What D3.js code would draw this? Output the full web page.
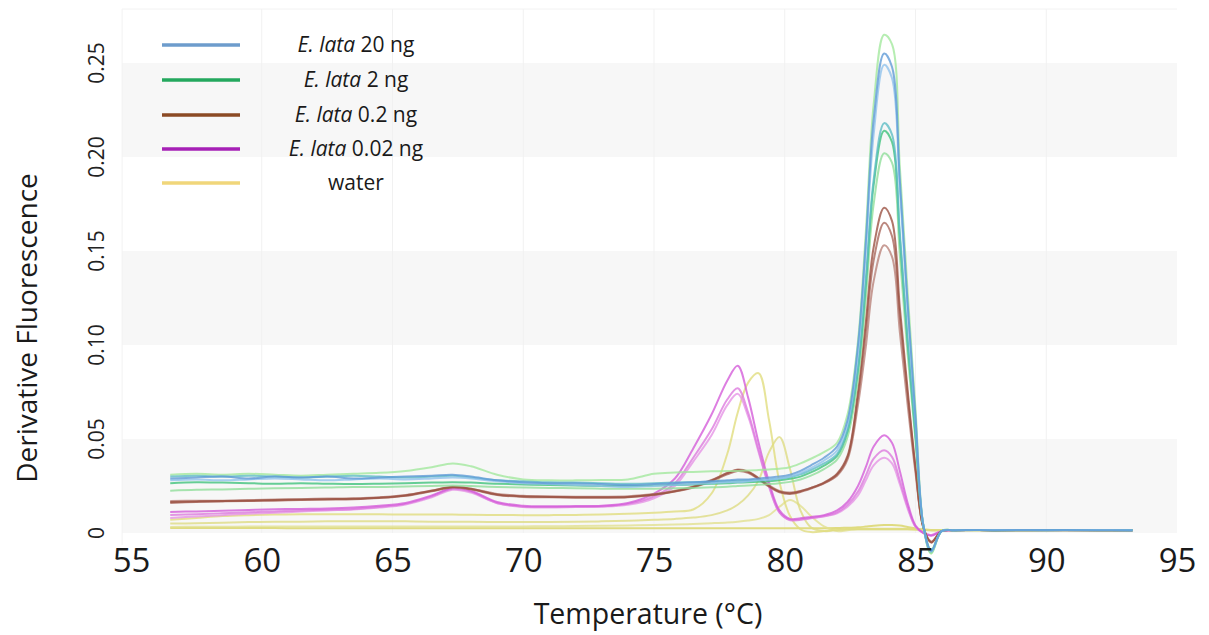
<!DOCTYPE html>
<html>
<head>
<meta charset="utf-8">
<script src="https://cdn.jsdelivr.net/npm/d3@7"></script>
<style>
  html, body { margin: 0; padding: 0; background: #fff; }
  svg { display: block; font-family: "Open Sans", "Noto Sans", sans-serif; }
</style>
</head>
<body>
<svg id="chart" width="1209" height="635"></svg>
<script>
// Melt-curve temperature grid (°C)
const temps = [56.5, 57.5, 58.5, 59.5, 60.5, 61.5, 62.5, 63.5, 64.5, 65.5,
  66.5, 67.3, 68.0, 69.0, 70.0, 71.0, 72.0, 73.0, 74.0, 75.0,
  75.8, 76.5, 77.2, 77.8, 78.2, 78.6, 79.0, 79.4, 79.8, 80.2,
  80.6, 81.0, 81.5, 82.0, 82.4, 82.8, 83.1, 83.4, 83.8, 84.1,
  84.4, 84.7, 85.0, 85.3, 85.6, 86.0, 86.5, 88.0, 90.0, 92.0, 93.3];

// -dF/dT replicates, E. lata 20 ng
const lata20a = [.0290,.0295,.0300,.0290,.0300,.0295,.0300,.0290,.0295,.0300,
  .0305,.0310,.0300,.0280,.0270,.0265,.0265,.0260,.0255,.0260,
  .0265,.0270,.0275,.0280,.0285,.0285,.0290,.0295,.0300,.0310,
  .0330,.0360,.0400,.0460,.0600,.1000,.1550,.2200,.2550,.2480,
  .1880,.1220,.0620,.0040,-.0095,.0010,.0015,.0015,.0016,.0015,.0015];
const lata20b = [.0280,.0285,.0280,.0285,.0290,.0285,.0280,.0285,.0290,.0285,
  .0290,.0295,.0290,.0275,.0265,.0260,.0255,.0250,.0245,.0250,
  .0255,.0260,.0265,.0270,.0270,.0275,.0280,.0285,.0290,.0300,
  .0320,.0345,.0385,.0440,.0580,.0960,.1500,.2120,.2490,.2420,
  .1830,.1180,.0600,.0040,-.0100,.0010,.0014,.0016,.0015,.0016,.0015];
const lata20c = [.0300,.0305,.0300,.0305,.0300,.0295,.0300,.0305,.0300,.0295,
  .0300,.0305,.0295,.0280,.0275,.0270,.0268,.0265,.0262,.0265,
  .0268,.0270,.0272,.0275,.0278,.0280,.0282,.0285,.0290,.0298,
  .0312,.0335,.0370,.0420,.0550,.0880,.1350,.1880,.2180,.2120,
  .1600,.1030,.0530,.0040,-.0095,.0010,.0015,.0015,.0015,.0016,.0015];

// E. lata 2 ng
const lata2a = [.0310,.0315,.0310,.0315,.0310,.0305,.0310,.0315,.0320,.0330,
  .0350,.0370,.0355,.0310,.0285,.0280,.0280,.0282,.0285,.0315,
  .0322,.0325,.0328,.0330,.0330,.0332,.0335,.0338,.0342,.0350,
  .0370,.0395,.0430,.0480,.0630,.1020,.1600,.2280,.2650,.2600,
  .1950,.1280,.0660,.0040,-.0110,.0010,.0015,.0016,.0015,.0015,.0016];
const lata2b = [.0265,.0270,.0268,.0265,.0262,.0265,.0262,.0260,.0262,.0265,
  .0268,.0270,.0268,.0262,.0258,.0255,.0252,.0250,.0250,.0252,
  .0255,.0258,.0262,.0265,.0268,.0270,.0272,.0275,.0280,.0288,
  .0300,.0322,.0358,.0410,.0540,.0870,.1320,.1850,.2140,.2080,
  .1570,.1010,.0520,.0040,-.0105,.0010,.0015,.0015,.0016,.0015,.0015];
const lata2c = [.0225,.0230,.0232,.0235,.0238,.0240,.0242,.0245,.0245,.0248,
  .0250,.0252,.0250,.0245,.0242,.0240,.0238,.0236,.0235,.0236,
  .0238,.0240,.0243,.0246,.0250,.0253,.0256,.0260,.0265,.0272,
  .0285,.0305,.0340,.0390,.0510,.0820,.1250,.1750,.2020,.1970,
  .1480,.0950,.0490,.0040,-.0090,.0010,.0015,.0015,.0015,.0016,.0015];

// E. lata 0.2 ng
const lata02a = [.0165,.0168,.0170,.0172,.0175,.0178,.0180,.0182,.0188,.0200,
  .0225,.0245,.0235,.0205,.0195,.0192,.0190,.0190,.0192,.0205,
  .0222,.0245,.0280,.0318,.0335,.0325,.0290,.0250,.0220,.0212,
  .0222,.0240,.0268,.0315,.0410,.0750,.1120,.1520,.1730,.1660,
  .1200,.0760,.0350,.0030,-.0050,.0010,.0015,.0015,.0016,.0015,.0015];
const lata02b = [.0160,.0165,.0168,.0170,.0172,.0176,.0178,.0180,.0186,.0198,
  .0222,.0242,.0232,.0202,.0192,.0190,.0188,.0188,.0190,.0202,
  .0220,.0242,.0276,.0312,.0330,.0320,.0286,.0246,.0216,.0208,
  .0218,.0236,.0264,.0310,.0400,.0720,.1070,.1450,.1650,.1580,
  .1150,.0730,.0340,.0030,-.0050,.0010,.0015,.0015,.0015,.0016,.0015];
const lata02c = [.0170,.0172,.0172,.0175,.0178,.0180,.0183,.0185,.0190,.0202,
  .0226,.0246,.0236,.0208,.0198,.0195,.0193,.0193,.0195,.0207,
  .0225,.0248,.0282,.0320,.0338,.0328,.0292,.0253,.0224,.0215,
  .0224,.0240,.0265,.0305,.0390,.0680,.0990,.1340,.1530,.1470,
  .1070,.0680,.0320,.0030,-.0045,.0010,.0015,.0015,.0015,.0015,.0016];

// E. lata 0.02 ng
const lata002a = [.0112,.0115,.0118,.0122,.0126,.0128,.0130,.0135,.0145,.0160,
  .0200,.0240,.0225,.0165,.0145,.0142,.0143,.0145,.0160,.0210,
  .0290,.0450,.0630,.0810,.0890,.0720,.0480,.0270,.0120,.0075,
  .0078,.0085,.0095,.0120,.0165,.0250,.0350,.0460,.0520,.0480,
  .0330,.0160,.0040,.0000,-.0015,.0010,.0015,.0016,.0015,.0015,.0015];
const lata002b = [.0096,.0100,.0105,.0110,.0115,.0120,.0124,.0128,.0138,.0155,
  .0195,.0235,.0220,.0160,.0140,.0138,.0140,.0142,.0155,.0195,
  .0265,.0400,.0550,.0710,.0770,.0640,.0440,.0250,.0110,.0070,
  .0072,.0080,.0090,.0110,.0150,.0220,.0305,.0395,.0440,.0405,
  .0280,.0140,.0035,.0000,-.0012,.0010,.0015,.0015,.0016,.0015,.0015];
const lata002c = [.0080,.0088,.0095,.0102,.0108,.0114,.0120,.0125,.0135,.0152,
  .0190,.0230,.0215,.0158,.0138,.0136,.0138,.0140,.0150,.0185,
  .0250,.0380,.0520,.0680,.0740,.0620,.0430,.0245,.0108,.0068,
  .0070,.0078,.0088,.0105,.0140,.0200,.0280,.0360,.0400,.0370,
  .0260,.0130,.0032,.0000,-.0010,.0010,.0015,.0015,.0015,.0016,.0015];

// water (no-template controls)
const waterA = [.0070,.0080,.0090,.0095,.0098,.0100,.0100,.0100,.0100,.0098,
  .0098,.0098,.0097,.0096,.0095,.0095,.0096,.0098,.0102,.0108,
  .0115,.0125,.0210,.0420,.0640,.0800,.0850,.0600,.0270,.0090,
  .0020,.0005,.0010,.0020,.0022,.0022,.0022,.0022,.0022,.0022,
  .0022,.0022,.0020,.0018,.0015,.0015,.0015,.0015,.0015,.0015,.0015];
const waterB = [.0050,.0052,.0055,.0058,.0060,.0060,.0062,.0062,.0062,.0062,
  .0060,.0060,.0060,.0058,.0058,.0058,.0060,.0062,.0065,.0070,
  .0075,.0082,.0095,.0120,.0150,.0200,.0280,.0430,.0510,.0340,
  .0120,.0030,.0010,.0015,.0020,.0020,.0020,.0020,.0020,.0020,
  .0020,.0020,.0018,.0016,.0015,.0015,.0015,.0015,.0015,.0015,.0015];
const waterC = [.0032,.0033,.0033,.0034,.0034,.0035,.0035,.0035,.0035,.0035,
  .0035,.0035,.0035,.0035,.0035,.0036,.0037,.0038,.0040,.0042,
  .0045,.0048,.0052,.0056,.0060,.0066,.0075,.0095,.0140,.0175,
  .0145,.0090,.0035,.0010,.0015,.0020,.0020,.0020,.0020,.0020,
  .0020,.0020,.0018,.0016,.0015,.0015,.0015,.0015,.0015,.0015,.0015];
const waterD = [.0027,.0027,.0026,.0026,.0026,.0025,.0025,.0025,.0025,.0025,
  .0025,.0025,.0025,.0025,.0025,.0025,.0025,.0025,.0025,.0025,
  .0025,.0025,.0025,.0025,.0025,.0025,.0025,.0025,.0025,.0025,
  .0025,.0025,.0025,.0026,.0028,.0030,.0034,.0038,.0042,.0043,
  .0040,.0032,.0024,.0019,.0016,.0015,.0015,.0015,.0015,.0015,.0015];

// Legend entries
const legendItalic = ["E. lata", "E. lata", "E. lata", "E. lata", ""];
const legendRest = [" 20 ng", " 2 ng", " 0.2 ng", " 0.02 ng", "water"];
const legendColors = ["#6d9ccc", "#24a85e", "#8b4a24", "#a620b6", "#f0d67a"];

// Axis ticks
const xTicks = [55, 60, 65, 70, 75, 80, 85, 90, 95];
const yTicks = [0, 0.05, 0.10, 0.15, 0.20, 0.25];
const yTickLabels = ["0", "0.05", "0.10", "0.15", "0.20", "0.25"];

// Curves, drawn back to front
const curves = [
  { values: waterD, color: "#d8d460" },
  { values: waterC, color: "#e2e08e" },
  { values: waterB, color: "#dedb82" },
  { values: waterA, color: "#e0dc7c" },
  { values: lata002c, color: "#e592e6" },
  { values: lata002b, color: "#dc78de" },
  { values: lata002a, color: "#d45ad8" },
  { values: lata02c, color: "#b98278" },
  { values: lata02b, color: "#a8655a" },
  { values: lata02a, color: "#9a4f40" },
  { values: lata2c, color: "#8ede98" },
  { values: lata2b, color: "#3cc27a" },
  { values: lata2a, color: "#a2e89c" },
  { values: lata20c, color: "#5cbcc4" },
  { values: lata20b, color: "#8ec2ec" },
  { values: lata20a, color: "#5e9ad6" }
];

const svg = d3.select("#chart");

const x = d3.scaleLinear().domain([55, 95]).range([131, 1177]);
const y = d3.scaleLinear().domain([0, 0.25]).range([533, 63]);

const plotLeft = x(54.66), plotRight = x(95), plotTop = 9, plotBottom = 545;

// Alternating background bands
const bands = [[0, 0.05], [0.10, 0.15], [0.20, 0.25]];
svg.append("g").selectAll("rect").data(bands).join("rect")
  .attr("x", plotLeft)
  .attr("width", plotRight - plotLeft)
  .attr("y", d => y(d[1]))
  .attr("height", d => y(d[0]) - y(d[1]))
  .attr("fill", "#f7f7f7");

// Faint plot frame and vertical grid
svg.append("line").attr("x1", plotLeft).attr("x2", plotRight)
  .attr("y1", plotTop).attr("y2", plotTop).attr("stroke", "#f2f2f2");
svg.append("line").attr("x1", plotLeft).attr("x2", plotLeft)
  .attr("y1", plotTop).attr("y2", plotBottom).attr("stroke", "#f2f2f2");
svg.append("g").selectAll("line").data(xTicks.slice(1, -1)).join("line")
  .attr("x1", d => x(d)).attr("x2", d => x(d))
  .attr("y1", plotTop).attr("y2", y(0))
  .attr("stroke", "#f1f1f1");

// Melt curves
const line = d3.line()
  .x((d, i) => x(temps[i]))
  .y(d => y(d))
  .curve(d3.curveCatmullRom.alpha(0.5));

svg.append("g").selectAll("path").data(curves).join("path")
  .attr("d", d => line(d.values))
  .attr("fill", "none")
  .attr("stroke", d => d.color)
  .attr("stroke-width", 2)
  .attr("stroke-opacity", 0.78)
  .attr("stroke-linejoin", "round");

// X axis labels
const xAxis = d3.axisBottom(x).tickValues(xTicks).tickSize(0).tickFormat(d3.format("d"));
const gx = svg.append("g").attr("transform", "translate(0,546)").call(xAxis);
gx.select(".domain").remove();
gx.selectAll("text")
  .attr("font-size", 33)
  .attr("font-family", "'Open Sans', sans-serif")
  .attr("fill", "#1a1a1a")
  .attr("dy", "0.71em");

// Y axis labels (rotated)
svg.append("g").selectAll("text").data(yTicks).join("text")
  .attr("transform", d => `translate(104,${y(d)}) rotate(-90)`)
  .attr("text-anchor", "middle")
  .attr("font-size", 21)
  .attr("fill", "#222")
  .text((d, i) => yTickLabels[i]);

// Axis titles
svg.append("text")
  .attr("x", 648).attr("y", 624)
  .attr("text-anchor", "middle")
  .attr("font-size", 28.5)
  .attr("fill", "#1a1a1a")
  .text("Temperature (°C)");

svg.append("text")
  .attr("transform", "translate(37,328) rotate(-90)")
  .attr("text-anchor", "middle")
  .attr("font-size", 28)
  .attr("fill", "#1a1a1a")
  .text("Derivative Fluorescence");

// Legend
const legendY = [45, 80, 115, 149, 183];
const lg = svg.append("g");
legendColors.forEach((c, i) => {
  lg.append("line")
    .attr("x1", 162).attr("x2", 240)
    .attr("y1", legendY[i]).attr("y2", legendY[i])
    .attr("stroke", c).attr("stroke-width", 3.5);
  const t = lg.append("text")
    .attr("x", 356).attr("y", legendY[i] + 7)
    .attr("text-anchor", "middle")
    .attr("font-size", 21)
    .attr("fill", "#1a1a1a");
  if (legendItalic[i]) t.append("tspan").attr("font-style", "italic").text(legendItalic[i]);
  t.append("tspan").text(legendRest[i]);
});
</script>
</body>
</html>
